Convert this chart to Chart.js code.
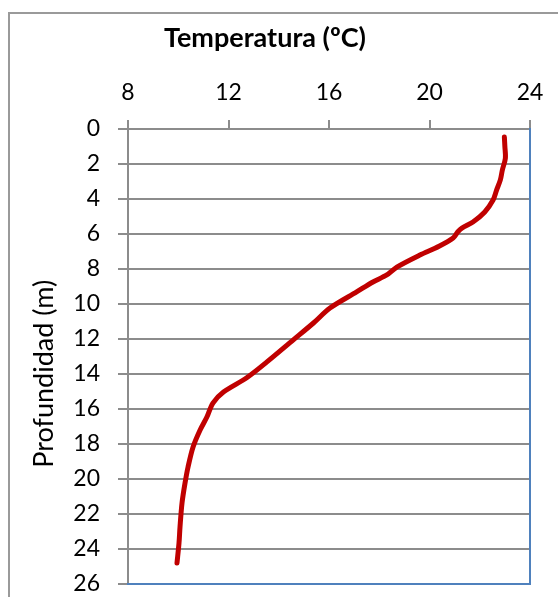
<!DOCTYPE html>
<html>
<head>
<meta charset="utf-8">
<script src="https://cdn.jsdelivr.net/npm/chart.js@4.4.0/dist/chart.umd.min.js"></script>
<style>
  html, body { margin: 0; padding: 0; background: #fff; overflow: hidden; }
  #wrap { position: relative; width: 558px; height: 597px; }
  #frame { position: absolute; left: 8px; top: 12px; width: 700px; height: 800px; border: 2px solid #9a9a9a; pointer-events: none; }
</style>
</head>
<body>
<div id="wrap">
  <canvas id="chart" width="558" height="597"></canvas>
  <div id="frame"></div>
</div>
<script>
// profile: depth (m) and temperature (ºC)
const depth = [0.46, 1.0, 1.67, 2.34, 2.91, 3.49, 4.06, 4.74, 5.31, 5.66, 5.87, 6.23, 6.7, 7.2,
    7.89, 8.34, 8.74, 9.31, 10.23, 11.1, 12.06, 13.31, 14.2, 15.03, 15.66, 16.46, 17.2, 18.17,
    19.31, 20.23, 21.37, 22.74, 23.66, 24.8];
const temperature = [22.98, 23.0, 23.02, 22.9, 22.82, 22.67, 22.53, 22.2, 21.73, 21.29, 21.13, 20.94, 20.38, 19.62,
    18.7, 18.3, 17.75, 17.1, 16.04, 15.37, 14.57, 13.53, 12.74, 11.8, 11.38, 11.14, 10.87, 10.59,
    10.39, 10.27, 10.15, 10.07, 10.03, 9.95];

const tempMin = 8, tempMax = 24, tempStep = 4;
const depthMin = 0, depthMax = 26, depthStep = 2;

const chartTitle = 'Temperatura (ºC)';
const yTitle = 'Profundidad (m)';

const gridGray = '#8c8c8c';
const edgeBlue = '#4f81bd';
const fontFamily = 'Lato, "Noto Sans", sans-serif';

const points = depth.map((d, i) => ({ x: temperature[i], y: d }));

new Chart(document.getElementById('chart'), {
    type: 'scatter',
    data: {
        datasets: [{
            data: points,
            showLine: true,
            borderColor: '#c00000',
            borderWidth: 5,
            pointRadius: 0,
            tension: 0.3,
            borderCapStyle: 'round',
            borderJoinStyle: 'round'
        }]
    },
    options: {
        responsive: false,
        animation: false,
        layout: { padding: { left: 0, right: 28, top: 0, bottom: 13 } },
        plugins: {
            legend: { display: false },
            tooltip: { enabled: false },
            title: {
                display: true,
                text: chartTitle,
                color: '#000',
                font: { family: fontFamily, size: 27, weight: 'bold' },
                padding: { top: 22, bottom: 0 }
            }
        },
        scales: {
            x: {
                type: 'linear',
                position: 'top',
                min: tempMin, max: tempMax,
                ticks: { stepSize: tempStep, color: '#000', padding: 14, font: { family: fontFamily, size: 23 } },
                grid: { drawOnChartArea: false, drawTicks: true, tickLength: 9, color: gridGray, lineWidth: 2 },
                border: { color: gridGray, width: 2 },
                afterFit: s => { s.height = 129 - 22 - 27 * 1.2; s.paddingLeft = 0; s.paddingRight = 0; }
            },
            y: {
                type: 'linear',
                position: 'left',
                reverse: true,
                min: depthMin, max: depthMax,
                ticks: { stepSize: depthStep, color: '#000', padding: 18, font: { family: fontFamily, size: 23 } },
                grid: { color: gridGray, lineWidth: 2, tickLength: 10 },
                border: { color: gridGray, width: 2 },
                title: {
                    display: true,
                    text: yTitle + '     ',
                    color: '#000',
                    font: { family: fontFamily, size: 27 },
                    padding: { top: 28, bottom: 0 }
                },
                afterFit: s => { s.width = 128; s.paddingTop = 0; s.paddingBottom = 0; }
            },
            x2: {
                type: 'linear',
                position: 'bottom',
                min: tempMin, max: tempMax,
                ticks: { display: false },
                grid: { display: false },
                border: { color: edgeBlue, width: 2 },
                afterFit: s => { s.height = 0; }
            },
            y2: {
                type: 'linear',
                position: 'right',
                min: depthMin, max: depthMax,
                ticks: { display: false },
                grid: { display: false },
                border: { color: edgeBlue, width: 2 },
                afterFit: s => { s.width = 0; }
            }
        }
    }
});
</script>
</body>
</html>
